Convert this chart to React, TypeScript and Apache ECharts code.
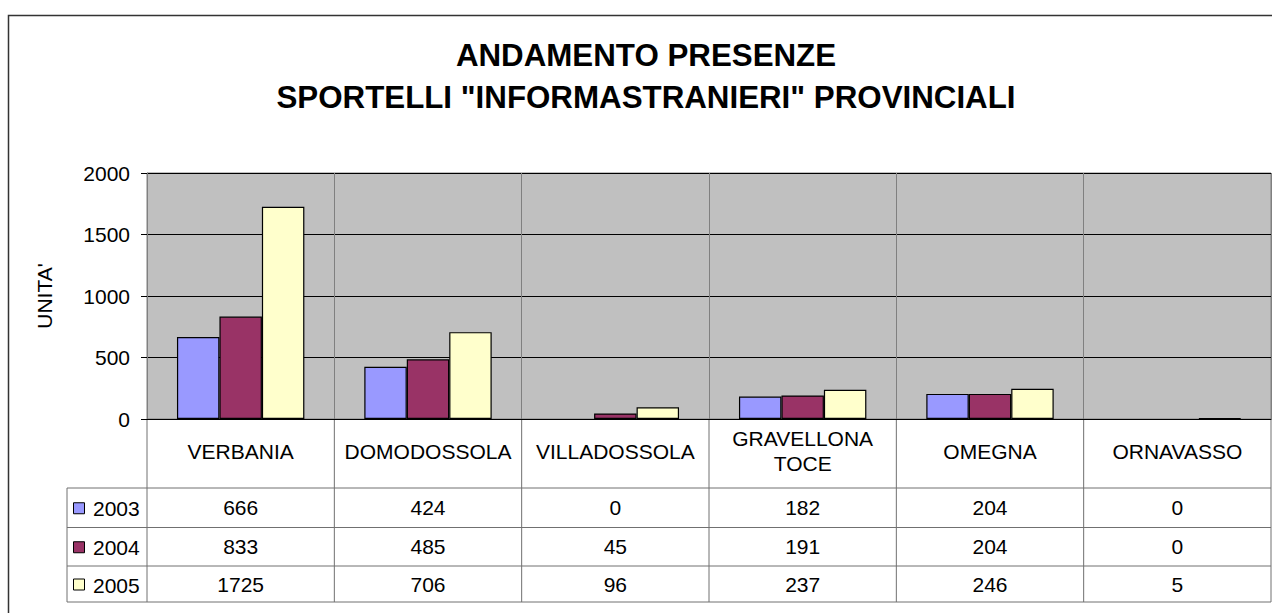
import React, { useEffect, useRef } from "react";
import * as echarts from "echarts";

const titleLines = ["ANDAMENTO PRESENZE", 'SPORTELLI "INFORMASTRANIERI" PROVINCIALI'];
const yAxisName = "UNITA'";
const categories = ["VERBANIA", "DOMODOSSOLA", "VILLADOSSOLA", "GRAVELLONA\nTOCE", "OMEGNA", "ORNAVASSO"];
const seriesNames = ["2003", "2004", "2005"];
const values2003 = [666, 424, 0, 182, 204, 0];
const values2004 = [833, 485, 45, 191, 204, 0];
const values2005 = [1725, 706, 96, 237, 246, 5];
const seriesValues = [values2003, values2004, values2005];
const seriesColors = ["#9999FF", "#993366", "#FFFFCC"];
const yMin = 0;
const yMax = 2000;
const yInterval = 500;

const FONT = '"Liberation Sans", Arial, sans-serif';
const W = 1272;
const H = 613;
const PLOT_L = 147;
const PLOT_R = 1271;
const PLOT_T = 173;
const PLOT_B = 419;
const ROW_LINES = [488, 527.5, 566, 602];
const LEGEND_L = 67;
const LINE_COLOR = "#707070";

export default function App() {
  const ref = useRef<HTMLDivElement>(null);
  useEffect(() => {
    if (!ref.current) return;
    const chart = echarts.init(ref.current, null, { renderer: "svg" });
    const option: any = {
      animation: false,
      backgroundColor: "#ffffff",
      title: {
        text: titleLines.join("\n"),
        left: 646,
        top: 34,
        padding: 0,
        textAlign: "center",
        textStyle: {
          fontFamily: FONT,
          fontSize: 31.3,
          fontWeight: "bold",
          color: "#000",
          lineHeight: 42,
        },
      },
      grid: {
        left: PLOT_L,
        right: W - PLOT_R,
        top: PLOT_T,
        bottom: H - PLOT_B,
        show: true,
        backgroundColor: "#C0C0C0",
        borderColor: "#808080",
        borderWidth: 1,
      },
      xAxis: {
        type: "category",
        data: categories,
        axisLine: { show: true, lineStyle: { color: "#000", width: 1 } },
        axisTick: { show: false },
        splitLine: { show: true, interval: 0, lineStyle: { color: "#808080", width: 1 } },
        axisLabel: {
          interval: 0,
          margin: 32,
          verticalAlign: "middle",
          fontFamily: FONT,
          fontSize: 21,
          lineHeight: 25,
          color: "#000",
        },
      },
      yAxis: {
        type: "value",
        min: yMin,
        max: yMax,
        interval: yInterval,
        name: yAxisName,
        nameLocation: "middle",
        nameRotate: 90,
        nameGap: 92,
        nameTextStyle: { fontFamily: FONT, fontSize: 21, color: "#000" },
        axisLine: { show: true, lineStyle: { color: "#808080" } },
        axisTick: { show: true, length: 6, lineStyle: { color: "#000" } },
        axisLabel: {
          margin: 17,
          fontFamily: FONT,
          fontSize: 21,
          color: "#000",
          formatter: (v: number) => String(v),
        },
        splitLine: { show: true, lineStyle: { color: "#000", width: 1 } },
      },
      series: seriesNames.map((name, i) => ({
        name,
        type: "bar",
        data: seriesValues[i].map((v) =>
          v === 0 ? { value: v, itemStyle: { borderWidth: 0 } } : v
        ),
        barGap: "0%",
        barCategoryGap: "32%",
        itemStyle: { color: seriesColors[i], borderColor: "#000", borderWidth: 1.2 },
      })),
    };
    chart.setOption(option);

    const colX: number[] = [];
    for (let i = 0; i < categories.length; i++) {
      colX.push(chart.convertToPixel({ xAxisIndex: 0 }, i) as number);
    }
    const colW = colX.length > 1 ? colX[1] - colX[0] : 100;
    const bounds = colX.map((x) => x - colW / 2).concat([colX[colX.length - 1] + colW / 2]);
    const graphics: any[] = [];
    graphics.push({
      type: "rect",
      shape: { x: 8.5, y: 15.5, width: 1400, height: 800 },
      style: { fill: "none", stroke: "#333", lineWidth: 1.5 },
      silent: true,
    });
    bounds.forEach((bx) => {
      graphics.push({
        type: "line",
        shape: { x1: bx, y1: PLOT_B, x2: bx, y2: ROW_LINES[ROW_LINES.length - 1] },
        style: { stroke: LINE_COLOR, lineWidth: 1 },
      });
    });
    ROW_LINES.forEach((ry) => {
      graphics.push({
        type: "line",
        shape: { x1: LEGEND_L, y1: ry, x2: bounds[bounds.length - 1], y2: ry },
        style: { stroke: LINE_COLOR, lineWidth: 1 },
      });
    });
    graphics.push({
      type: "line",
      shape: { x1: LEGEND_L, y1: ROW_LINES[0], x2: LEGEND_L, y2: ROW_LINES[ROW_LINES.length - 1] },
      style: { stroke: LINE_COLOR, lineWidth: 1 },
    });
    seriesNames.forEach((name, r) => {
      const cy = (ROW_LINES[r] + ROW_LINES[r + 1]) / 2;
      graphics.push({
        type: "rect",
        shape: { x: 73.5, y: cy - 5, width: 11, height: 11 },
        style: { fill: seriesColors[r], stroke: "#000", lineWidth: 1 },
      });
      graphics.push({
        type: "text",
        x: 93,
        y: cy + 1,
        style: {
          text: name,
          font: `21px ${FONT}`,
          fill: "#000",
          textAlign: "left",
          textVerticalAlign: "middle",
        },
      });
      seriesValues[r].forEach((v, c) => {
        graphics.push({
          type: "text",
          x: colX[c],
          y: cy,
          style: {
            text: String(v),
            font: `21px ${FONT}`,
            fill: "#000",
            textAlign: "center",
            textVerticalAlign: "middle",
          },
        });
      });
    });
    chart.setOption({ graphic: graphics });

    return () => chart.dispose();
  }, []);
  return (
    <div
      ref={ref}
      style={{ position: "fixed", left: 0, top: 0, width: W, height: H }}
    />
  );
}
